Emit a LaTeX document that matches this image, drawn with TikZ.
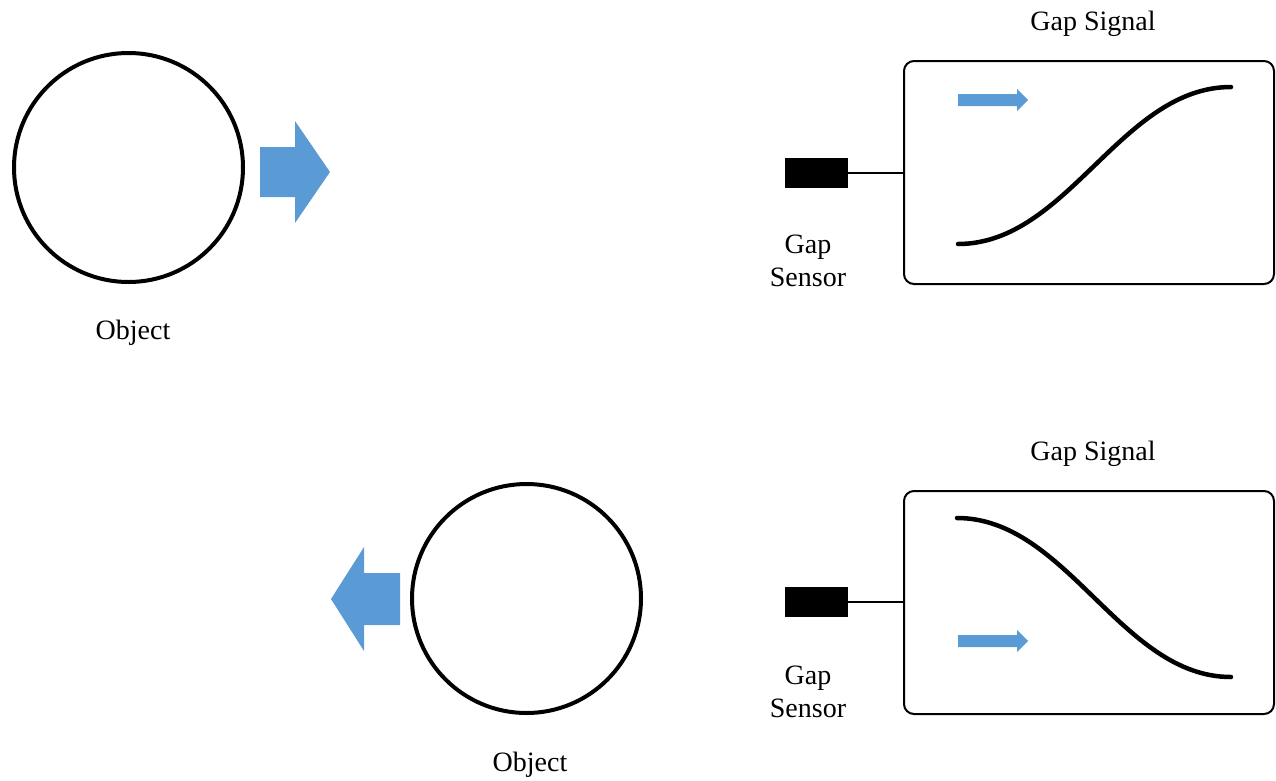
\documentclass[tikz,border=0pt]{standalone}
\usepackage{fontspec}
\setmainfont{Liberation Serif}
\definecolor{arrowblue}{RGB}{91,155,213}
\begin{document}
\begin{tikzpicture}[x=1pt,y=-1pt,
  objcircle/.style={circle, draw=black, line width=4pt, minimum size=229pt, inner sep=0pt},
  sensorbox/.style={rectangle, fill=black, minimum width=63pt, minimum height=30pt, inner sep=0pt},
  signalbox/.style={rectangle, draw=black, line width=2pt, rounded corners=10pt, minimum width=370pt, minimum height=223pt, inner sep=0pt},
  lbl/.style={font=\fontsize{28}{33}\selectfont, inner sep=0pt, align=center},
  wire/.style={line width=2pt},
  curve/.style={line width=4.5pt, line cap=round},
  blockarrow/.style={fill=arrowblue, draw=none}
]
\useasboundingbox (0,0) rectangle (1276,780);

% ---------- top row ----------
\node[objcircle] (obj1) at (128.5,167.5) {};
\node[lbl] (objlbl1) at (133,333) {Object};
\fill[blockarrow] (260,147) -- (295,147) -- (295,121) -- (330,172) -- (295,223) -- (295,197) -- (260,197) -- cycle;

\node[sensorbox] (sen1) at (816.5,173) {};
\node[signalbox] (box1) at (1089,172.5) {};
\draw[wire] (sen1.east) -- (sen1.east -| box1.west);
\node[lbl] (senlbl1) at (808,261) {Gap\\Sensor};
\node[lbl] (siglbl1) at (1093,24) {Gap Signal};
\fill[blockarrow] (958,94) -- (1017,94) -- (1017,89) -- (1028,100) -- (1017,111) -- (1017,106) -- (958,106) -- cycle;
\draw[curve] (958,244) .. controls (1068,244) and (1121,87) .. (1231,87);

% ---------- bottom row ----------
\node[objcircle] (obj2) at (526.5,598.5) {};
\node[lbl] (objlbl2) at (530,765) {Object};
\fill[blockarrow] (400,573) -- (364,573) -- (364,547) -- (331,599) -- (364,651) -- (364,625) -- (400,625) -- cycle;

\node[sensorbox] (sen2) at (816.5,602) {};
\node[signalbox] (box2) at (1089,602.5) {};
\draw[wire] (sen2.east) -- (sen2.east -| box2.west);
\node[lbl] (senlbl2) at (808,692) {Gap\\Sensor};
\node[lbl] (siglbl2) at (1093,454) {Gap Signal};
\fill[blockarrow] (958,635) -- (1017,635) -- (1017,630) -- (1028,641) -- (1017,652) -- (1017,647) -- (958,647) -- cycle;
\draw[curve] (957,518) .. controls (1067,518) and (1121,677) .. (1231,677);
\end{tikzpicture}
\end{document}
